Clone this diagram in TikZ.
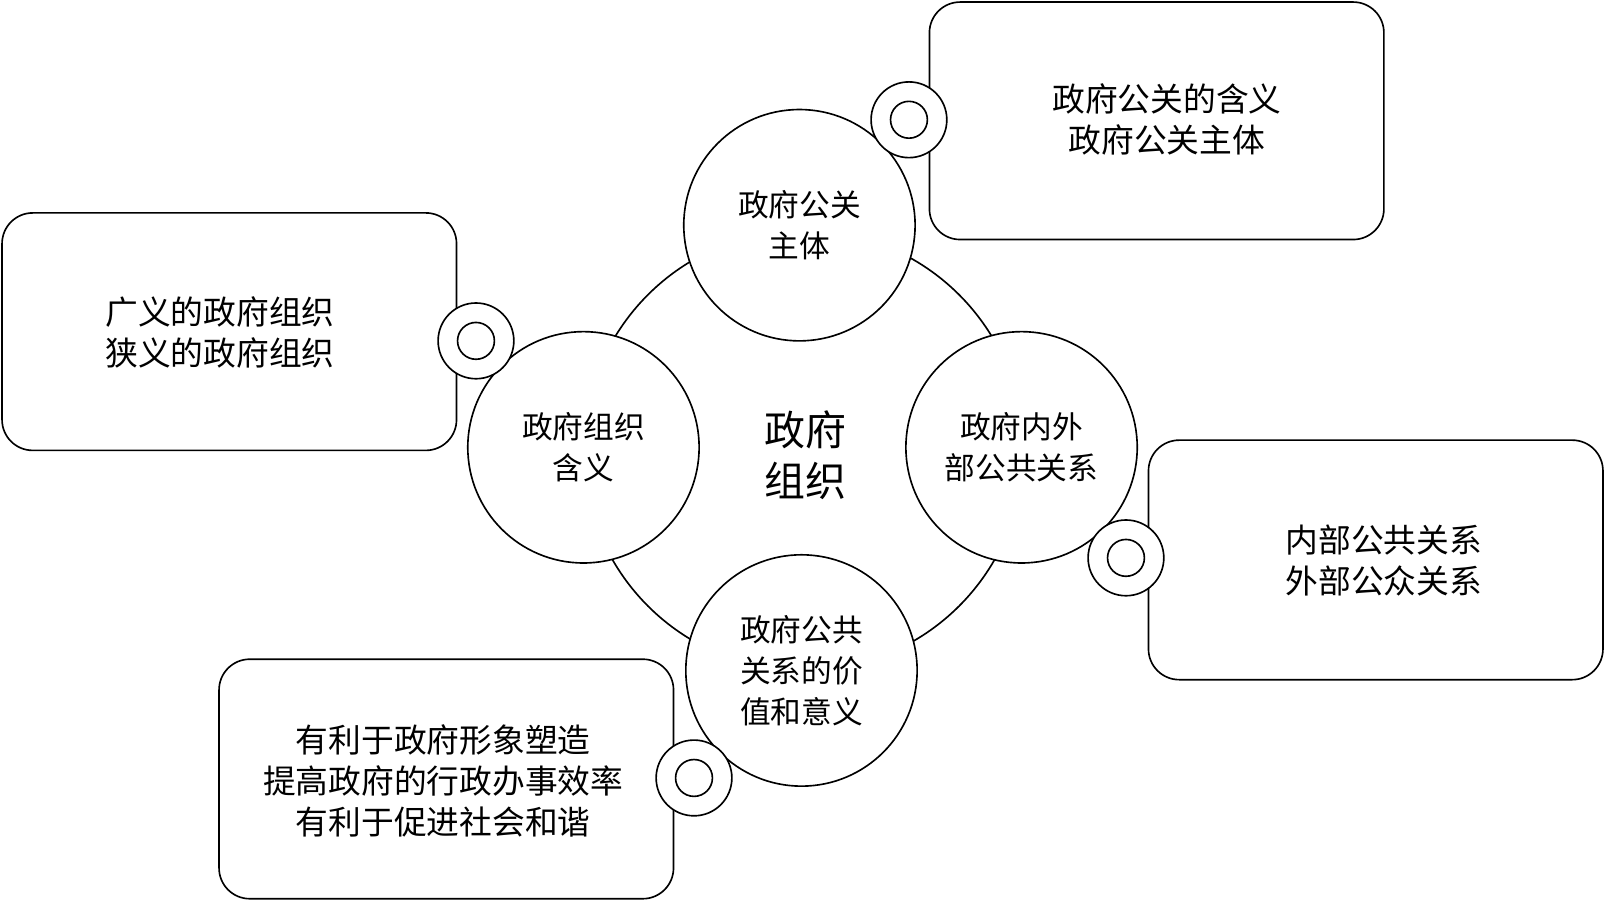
\documentclass[tikz,border=0pt]{standalone}
\usepackage{fontspec}
\setmainfont{Noto Sans CJK SC}
\begin{document}
\begin{tikzpicture}[x=0.5pt,y=-0.5pt,
  box/.style={draw,line width=0.8pt,rounded corners=15pt,fill=white},
  boxtext/.style={align=center,font=\fontsize{16}{20}\selectfont},
  circ/.style={circle,draw,line width=0.8pt,fill=white,minimum size=113pt,inner sep=0pt,align=center,font=\fontsize{15}{20}\selectfont},
  ring/.style={circle,draw,line width=0.8pt,fill=white,minimum size=37pt,inner sep=0pt},
  hole/.style={circle,draw,line width=0.8pt,minimum size=18pt,inner sep=0pt}]
\useasboundingbox (0,0) rectangle (1568,880);
% boxes
\draw[box] (908,2) rectangle (1352,234);
\draw[box] (2,208) rectangle (446,440);
\draw[box] (1122,430) rectangle (1566,664);
\draw[box] (214,644) rectangle (658,878);
\node[boxtext] (t1) at (1140,117) {政府公关的含义\\政府公关主体};
\node[boxtext] (t2) at (215,325) {广义的政府组织\\狭义的政府组织};
\node[boxtext] (t3) at (1352,548) {内部公共关系\\外部公众关系};
\node[boxtext] (t4) at (433,763) {有利于政府形象塑造\\提高政府的行政办事效率\\有利于促进社会和谐};
% ring of connection
\node[circle,draw,line width=0.8pt,minimum size=215pt,inner sep=0pt] (big) at (785,440) {};
\node[circ] (ctop) at (781,220) {政府公关\\主体};
\node[circ] (cleft) at (570,437) {政府组织\\含义};
\node[circ] (cright) at (998,437) {政府内外\\部公共关系};
\node[circ] (cbot) at (783,655) {政府公共\\关系的价\\值和意义};
\node[align=center,font=\fontsize{20}{25}\selectfont] (center) at (787,445) {政府\\组织};
% rings
\foreach \n/\p in {r1/{(888,117)},r2/{(465,333)},r3/{(1100,545)},r4/{(678,760)}}{
  \node[ring] (\n) at \p {};
  \node[hole] (\n h) at (\n) {};
}
\end{tikzpicture}
\end{document}
